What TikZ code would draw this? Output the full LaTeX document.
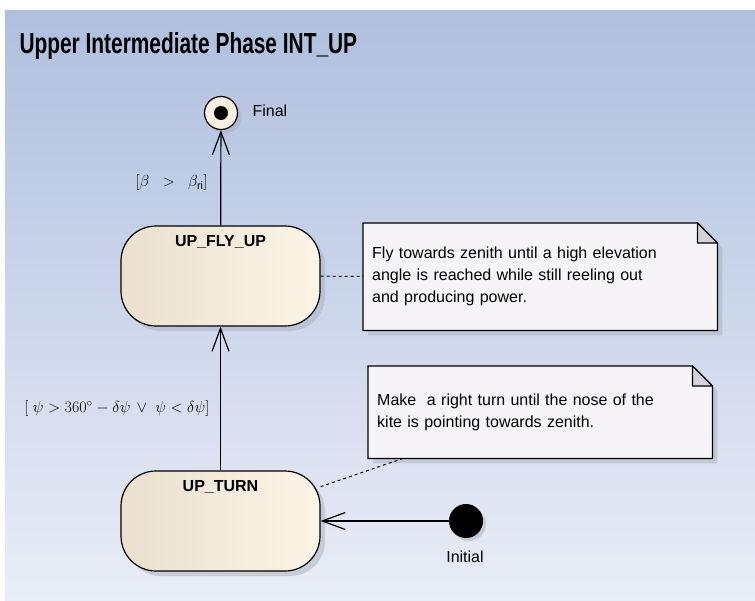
\documentclass[tikz,border=0pt]{standalone}
\usepackage{fontspec}
\setmainfont{Liberation Sans}
\usetikzlibrary{arrows.meta,shadows,calc}
\pgfdeclarelayer{back}
\pgfdeclarelayer{notes}
\pgfsetlayers{back,notes,main}
\definecolor{bgtop}{HTML}{AFBFDF}
\definecolor{bgbot}{HTML}{E9EDF7}
\definecolor{stateL}{HTML}{EBE0CF}
\definecolor{stateR}{HTML}{FCF4E6}
\definecolor{notefill}{HTML}{F6F4F8}
\definecolor{earfill}{HTML}{D5D3D9}
\definecolor{shadowgray}{HTML}{A9AFBD}
\definecolor{finalfill}{HTML}{F7F0E1}
\newcommand\drawnote[1]{%
  \begin{pgfonlayer}{notes}
    \path[fill=notefill,draw,line width=1.2pt,drop shadow={shadow xshift=5pt,shadow yshift=-5pt,fill=shadowgray}]
      (#1.north west) -- ($(#1.north east)+(-20,0)$) -- ($(#1.north east)+(0,20)$) -- (#1.south east) -- (#1.south west) -- cycle;
    \filldraw[fill=earfill,line width=1.2pt,line join=round] ($(#1.north east)+(-20,0)$) -- ($(#1.north east)+(-20,20)$) -- ($(#1.north east)+(0,20)$) -- cycle;
  \end{pgfonlayer}}
\newcommand\guardtext[1]{\scalebox{0.925}{#1}}

\begin{document}
\begin{tikzpicture}[x=1pt,y=-1pt,
    statebox/.style={draw,line width=1.2pt,rounded corners=35pt,minimum width=199pt,minimum height=100pt,
      left color=stateL,right color=stateR,drop shadow={shadow xshift=5pt,shadow yshift=-5pt,fill=shadowgray}},
    statename/.style={anchor=north,yshift=-7pt,font=\fontsize{16}{19}\selectfont\bfseries},
    notebox/.style={anchor=north west,inner xsep=9pt,align=left,font=\fontsize{16}{22}\selectfont},
    trans/.style={line width=1.2pt,-{Straight Barb[length=23pt,width=17pt,line width=1.2pt]}},
    guard/.style={font=\fontsize{16.5}{19}\selectfont},
    link/.style={line width=1pt,dash pattern=on 3pt off 3pt},
    plain/.style={font=\fontsize{16}{19}\selectfont}]
    \useasboundingbox (0,0) rectangle (755,600);
    \begin{pgfonlayer}{back}
        \fill[white] (0,0) rectangle (755,600);
        \shade[top color=bgtop,bottom color=bgbot] (5,10) rectangle (755,600);
    \end{pgfonlayer}
    \node (title) [anchor=base west] at (16,53) {\scalebox{0.72}[1]{\fontsize{29}{32}\selectfont\bfseries Upper Intermediate Phase INT\_UP}};

    \node (final) [circle,draw,line width=1.2pt,fill=finalfill,minimum size=33pt,inner sep=0pt,
        drop shadow={shadow xshift=4pt,shadow yshift=-4pt,fill=shadowgray}] at (221,113) {};
    \node (finaldot) [circle,fill=black,minimum size=14pt,inner sep=0pt] at (final.center) {};
    \node (finallabel) [plain,anchor=west] at (249,111) {Final};

    \node (flyup) [statebox,label={[statename]north:UP\_FLY\_UP}] at (220.5,276) {};
    \node (uturn) [statebox,label={[statename]north:UP\_TURN}] at (220.5,521) {};

    \node (initial) [circle,fill=black,minimum size=34pt,inner sep=0pt,
        drop shadow={shadow xshift=3pt,shadow yshift=-3pt,fill=shadowgray}] at (466,521) {};
    \node (initiallabel) [plain] at (465,557) {Initial};

    \node (noteA) [notebox,text width=336pt,minimum height=107pt] at (363,223)
        {Fly towards zenith until a high elevation\\angle is reached while still reeling out\\and producing power.};
    \drawnote{noteA}
    \node (noteB) [notebox,text width=326pt,minimum height=92pt] at (368,366)
        {Make\ \ a right turn until the nose of the\\kite is pointing towards zenith.};
    \drawnote{noteB}
    \coordinate (noteBfoot) at ($(noteB.south west)+(35,0)$);

    \draw [trans] (flyup) -- (final);
    \draw [trans] (uturn) -- (flyup);
    \draw [trans] (initial) -- (uturn);
    \draw [link] (flyup) -- (noteA);
    \draw [link] (uturn) -- (noteBfoot);

    \node (guardA) [guard,anchor=east] at (211,183) {\guardtext{$[\beta\;\;>\;\;\beta_{\mathrm{ri}}]$}};
    \node (guardB) [guard,anchor=east] at (213,408) {\guardtext{$[\;\psi > 360^\circ - \delta\psi \,\vee\; \psi < \delta\psi]$}};
\end{tikzpicture}
\end{document}
